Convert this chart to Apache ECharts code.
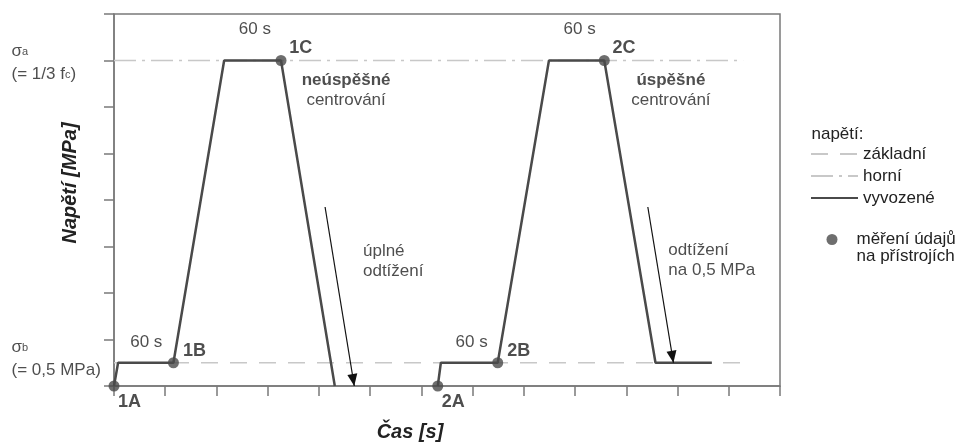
<!DOCTYPE html>
<html>
<head>
<meta charset="utf-8">
<script src="https://cdn.jsdelivr.net/npm/echarts/dist/echarts.min.js"></script>
<style>
  html, body { margin: 0; padding: 0; background: #fff; }
  #chart { width: 967px; height: 443px; }
</style>
</head>
<body>
<div id="chart"></div>
<script>
// zatěžovací cykly (čas v dílcích osy, napětí v dílcích osy)
var cycle1T = [0, 0.08, 1.16, 2.15, 3.26, 4.31];
var cycle1S = [0, 0.5, 0.5, 7, 7, 0];
var cycle2T = [6.32, 6.38, 7.49, 8.49, 9.57, 10.57, 11.67];
var cycle2S = [0, 0.5, 0.5, 7, 7, 0.5, 0.5];

// úrovně napětí
var sigmaB = 0.5;
var sigmaA = 7;
var levelEnd = 12.28;

// měření údajů
var readNames = ['1A', '1B', '1C', '2A', '2B', '2C'];
var readT = [0, 1.16, 3.26, 6.32, 7.49, 9.57];
var readS = [0, 0.5, 7, 0, 0.5, 7];

// šipky odtížení [t0, s0, t1, s1]
var arrows = [
  [4.12, 3.85, 4.69, 0],
  [10.42, 3.85, 10.92, 0.5]
];

// popisky v grafu
var noteText = [
  '{m|σ}{s|a}\n{m|(= 1/3 f}{s|c}{m|)}',
  '{m|σ}{s|b}\n{m|(= 0,5 MPa)}',
  '60 s', '60 s', '60 s', '60 s',
  '{b|neúspěšné}\ncentrování',
  '{b|úspěšné}\ncentrování',
  'úplné\nodtížení',
  'odtížení\nna 0,5 MPa'
];
var noteT = [-2.0, -2.0, 2.75, 9.09, 0.63, 6.98, 4.53, 10.87, 4.86, 10.82];
var noteS = [6.94, 0.58, 7.66, 7.66, 0.95, 0.95, 6.36, 6.36, 2.69, 2.71];
var noteAlign = ['left', 'left', 'center', 'center', 'center', 'center', 'center', 'center', 'left', 'left'];

var FONT = 'Liberation Sans, Arial, sans-serif';
var DARK = '#4a4a4a';
var LIGHT = '#c8c8c8';
var AXIS = '#7a7a7a';
var DASH = [17, 12];
var DASHDOT = [22, 6, 3, 6];

function pairs(t, s) {
  return t.map(function (v, i) { return [v, s[i]]; });
}

var pointData = readNames.map(function (n, i) {
  var off = n.charAt(1) === 'A' ? [-6.5, 16] : (n.charAt(1) === 'B' ? [-1, -12] : [-2.2, -12]);
  return { name: n, value: [readT[i], readS[i]], label: { offset: off } };
});

var noteData = noteText.map(function (txt, i) {
  return { value: [noteT[i], noteS[i]], text: txt, label: { align: noteAlign[i] } };
});

var arrowData = arrows.map(function (a) {
  return [{ coord: [a[0], a[1]] }, { coord: [a[2], a[3]] }];
});

var chart = echarts.init(document.getElementById('chart'));

var option = {
  animation: false,
  textStyle: { fontFamily: FONT },
  grid: {
    left: 114, right: 187, top: 14, bottom: 57,
    show: true, borderColor: AXIS, borderWidth: 1.5, backgroundColor: 'transparent'
  },
  xAxis: {
    type: 'value', min: 0, max: 13, interval: 1,
    axisLine: { show: true, lineStyle: { color: AXIS, width: 1.5 } },
    axisTick: { show: true, inside: false, length: 10, lineStyle: { color: AXIS, width: 1.5 } },
    axisLabel: { show: false },
    splitLine: { show: false }
  },
  yAxis: {
    type: 'value', min: 0, max: 8, interval: 1,
    axisLine: { show: true, lineStyle: { color: AXIS, width: 1.5 } },
    axisTick: { show: true, inside: false, length: 10, lineStyle: { color: AXIS, width: 1.5 } },
    axisLabel: { show: false },
    splitLine: { show: false }
  },
  legend: [{
    orient: 'vertical', left: 810, top: 145.5, padding: 0,
    itemWidth: 47, itemHeight: 14, itemGap: 5,
    itemStyle: { opacity: 0 },
    data: [
      { name: 'základní', lineStyle: { type: DASH } },
      { name: 'horní', lineStyle: { type: DASHDOT } },
      { name: 'vyvozené' }
    ],
    textStyle: { fontFamily: FONT, fontSize: 17, color: '#222' },
    selectedMode: false
  }, {
    orient: 'vertical', left: 826.5, top: 214, padding: 0,
    itemWidth: 11, itemHeight: 11, icon: 'circle',
    data: ['měření údajů\nna přístrojích'],
    formatter: function (name) { return '\n' + name; },
    textStyle: { fontFamily: FONT, fontSize: 17, color: '#222', lineHeight: 17, padding: [0, 0, 0, 14] },
    selectedMode: false
  }],
  graphic: [
    { type: 'text', x: 70, y: 183, rotation: Math.PI / 2,
      style: { text: 'Napětí [MPa]', fontFamily: FONT, fontSize: 20, fontWeight: 'bold', fontStyle: 'italic',
               fill: '#222', align: 'center', verticalAlign: 'middle' } },
    { type: 'text', x: 410, y: 432,
      style: { text: 'Čas [s]', fontFamily: FONT, fontSize: 20, fontWeight: 'bold', fontStyle: 'italic',
               fill: '#222', align: 'center', verticalAlign: 'middle' } },
    { type: 'text', x: 811.5, y: 134.5,
      style: { text: 'napětí:', fontFamily: FONT, fontSize: 17, fill: '#222', align: 'left', verticalAlign: 'middle' } }
  ],
  series: [
    {
      name: 'základní', type: 'line', symbol: 'none', z: 2,
      data: [[0, sigmaB], [levelEnd, sigmaB]],
      lineStyle: { color: LIGHT, width: 1.5, type: DASH },
      itemStyle: { color: LIGHT }
    },
    {
      name: 'horní', type: 'line', symbol: 'none', z: 2,
      data: [[0, sigmaA], [levelEnd, sigmaA]],
      lineStyle: { color: LIGHT, width: 1.5, type: DASHDOT },
      itemStyle: { color: LIGHT }
    },
    {
      name: 'vyvozené', type: 'line', symbol: 'none', z: 3,
      data: pairs(cycle1T, cycle1S),
      lineStyle: { color: DARK, width: 2.5 },
      itemStyle: { color: DARK }
    },
    {
      name: 'vyvozené', type: 'line', symbol: 'none', z: 3,
      data: pairs(cycle2T, cycle2S),
      lineStyle: { color: DARK, width: 2.5 },
      itemStyle: { color: DARK }
    },
    {
      name: 'měření údajů\nna přístrojích', type: 'scatter', z: 4, clip: false,
      symbol: 'circle', symbolSize: 11,
      itemStyle: { color: DARK },
      data: pointData,
      label: {
        show: true, position: 'right', distance: 5,
        formatter: function (p) { return p.name; },
        fontFamily: FONT, fontSize: 18, fontWeight: 'bold', color: '#222'
      }
    },
    {
      name: 'poznámky', type: 'scatter', z: 5, clip: false,
      symbolSize: 0, silent: true,
      data: noteData,
      label: {
        show: true, position: 'inside', verticalAlign: 'middle',
        formatter: function (p) { return p.data.text; },
        fontFamily: FONT, fontSize: 17, color: '#222', lineHeight: 20,
        rich: {
          b: { fontFamily: FONT, fontSize: 17, fontWeight: 'bold', color: '#222', lineHeight: 20 },
          m: { fontFamily: FONT, fontSize: 17, color: '#222', lineHeight: 23 },
          s: { fontFamily: FONT, fontSize: 11, color: '#222', lineHeight: 23, verticalAlign: 'middle' }
        }
      },
      markLine: {
        silent: true, animation: false,
        symbol: ['none', 'triangle'], symbolSize: [10, 12],
        symbolOffset: [[0, 0], [0, 6]],
        label: { show: false },
        lineStyle: { color: '#111', width: 1.2, type: 'solid' },
        data: arrowData
      }
    }
  ]
};

chart.setOption(option);
</script>
</body>
</html>
